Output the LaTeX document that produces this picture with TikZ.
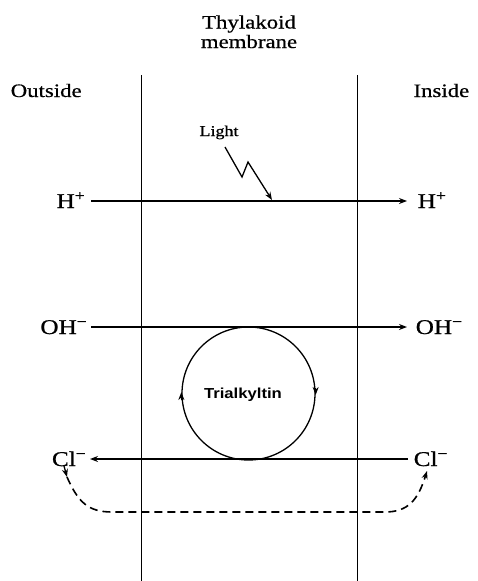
\documentclass[tikz,border=0pt]{standalone}
\usepackage{fontspec}
\newfontfamily\lbfont[FakeStretch=1.2,FakeBold=0.6]{Liberation Serif}
\newfontfamily\ionfont[FakeStretch=1.2,FakeBold=0.8]{Liberation Serif}
\newfontfamily\trifont[FakeStretch=1.15]{Liberation Sans}
\usetikzlibrary{arrows.meta}
\begin{document}
\begin{tikzpicture}[x=1pt,y=-1pt,line width=1.5pt,
  lbl/.style={font=\lbfont\fontsize{19}{22}\selectfont, inner sep=0pt},
  ion/.style={inner sep=0pt, font=\ionfont\fontsize{21}{24}\selectfont, text height=14pt, text depth=0pt},
  tip/.style={-{Stealth[length=8pt,width=6pt]}},
  membrane/.style={line width=1.5pt}]
\useasboundingbox (0,0) rectangle (478,581);
% titles
\node[lbl, anchor=base] (t1) at (249,28.5) {Thylakoid};
\node[lbl, anchor=base] (t2) at (249,48) {membrane};
\node[lbl, anchor=base west] (outside) at (10,97) {Outside};
\node[lbl, anchor=base east] (inside) at (470,97) {Inside};
% membrane lines
\coordinate (m1t) at (141.5,75); \coordinate (m1b) at (141.5,581);
\coordinate (m2t) at (357.5,75); \coordinate (m2b) at (357.5,581);
\draw[membrane] (m1t) -- (m1b);
\draw[membrane] (m2t) -- (m2b);
% H+
\node[ion, anchor=east, inner xsep=5pt] (hL) at (91,201) {H\textsuperscript{+}};
\node[ion, anchor=west, inner xsep=10pt] (hR) at (407,201) {H\textsuperscript{+}};
\draw[tip] (hL.east) -- (hR.west);
% Light
\node[inner sep=0pt, font=\ionfont\fontsize{15}{18}\selectfont, anchor=base] (light) at (219,136) {Light};
\coordinate (l0) at (225,147);
\coordinate (l1) at (242,177);
\coordinate (l2) at (248,162);
\coordinate (l3) at (272,200);
\draw[tip, line width=1.3pt] (l0) -- (l1) -- (l2) -- (l3);
% OH-
\node[ion, anchor=east, inner xsep=3pt] (ohL) at (91,327) {OH\textsuperscript{−}};
\node[ion, anchor=west, inner xsep=8pt] (ohR) at (407,327) {OH\textsuperscript{−}};
\draw[tip] (ohL.east) -- (ohR.west);
% Trialkyltin cycle
\node[draw, circle, minimum size=133pt, inner sep=0pt, line width=1.3pt] (cyc) at (248.5,393.5) {};
\node[font=\trifont\bfseries\fontsize{14.5}{16}\selectfont, anchor=base, inner sep=0pt] (tri) at (243,398) {Trialkyltin};
\draw[tip, line width=1.3pt] ([yshift=-6.5pt]cyc.west) -- ([yshift=1.5pt]cyc.west);
\draw[tip, line width=1.3pt] ([yshift=5.5pt]cyc.east) -- ([yshift=-1.5pt]cyc.east);
% Cl-
\node[ion, anchor=east, inner xsep=3pt] (clL) at (90,459) {Cl\textsuperscript{−}};
\node[ion, anchor=west, inner xsep=5pt] (clR) at (408,459) {Cl\textsuperscript{−}};
\draw[tip] (clR.west) -- (clL.east);
% dashed return path
\coordinate (d0) at (64,466);
\coordinate (d1) at (67,477);
\coordinate (d2) at (427,471);
\draw[tip, line width=1.3pt] (d0) -- (d1);
\draw[tip, dash pattern=on 8pt off 5pt, line width=1.6pt] (d1) .. controls (78,502) and (88,512) .. (112,512) -- (385,512) .. controls (408,512) and (418,500) .. (d2);
\end{tikzpicture}
\end{document}
